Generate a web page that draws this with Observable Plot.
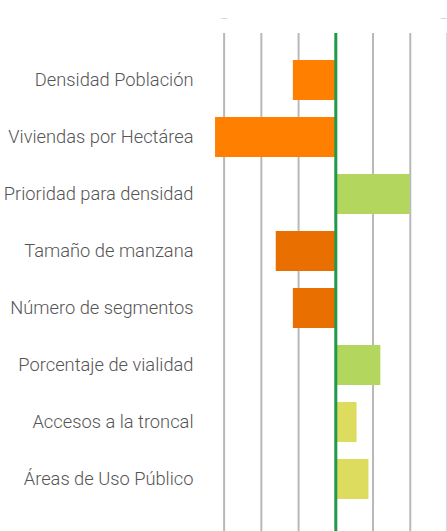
<!DOCTYPE html>
<html>
<head>
<meta charset="utf-8">
<script src="https://cdn.jsdelivr.net/npm/d3@7"></script>
<script src="https://cdn.jsdelivr.net/npm/@observablehq/plot@0.6"></script>
<style>
  html, body { margin: 0; padding: 0; background: #fff; }
  #chart svg { display: block; }
</style>
</head>
<body>
<div id="chart"></div>
<script>
const categories = [
  "Densidad Población",
  "Viviendas por Hectárea",
  "Prioridad para densidad",
  "Tamaño de manzana",
  "Número de segmentos",
  "Porcentaje de vialidad",
  "Accesos a la troncal",
  "Áreas de Uso Público"
];
const values = [-1.14, -3.23, 2.0, -1.6, -1.14, 1.21, 0.57, 0.89];
const barColors = ["#FF7F00", "#FF7F00", "#B3D65E", "#E86F00", "#E86F00", "#B3D65E", "#DEDC5F", "#DEDC5F"];
const gridTicks = [-3, -2, -1, 1, 2, 3];
const topTickValues = [-3, 3];
const topTickLabels = ["–", "–"];

const data = categories.map((c, i) => ({category: c, value: values[i], color: barColors[i]}));
const topTicks = topTickValues.map((v, i) => ({v, label: topTickLabels[i]}));

const chart = Plot.plot({
  width: 447,
  height: 531,
  marginLeft: 205,
  marginRight: 0,
  marginTop: 51,
  marginBottom: 23,
  style: {fontFamily: "Roboto, sans-serif", background: "#fff"},
  x: {domain: [-3.5, 3], axis: null},
  y: {domain: categories, paddingInner: 0.3, paddingOuter: 0.15, label: null},
  marks: [
    Plot.ruleX(gridTicks, {stroke: "#b8b8b8", strokeWidth: 2, insetTop: -18, insetBottom: -23}),
    Plot.barX(data, {x: "value", y: "category", fill: "color"}),
    Plot.ruleX([0], {stroke: "#1E9A48", strokeWidth: 3, insetTop: -18, insetBottom: -23}),
    Plot.text(topTicks.slice(0, 1), {x: "v", text: "label", frameAnchor: "top", dy: -37, fill: "#d8d8d8", fontSize: 12}),
    Plot.text(topTicks.slice(1), {x: "v", text: "label", frameAnchor: "top", dy: -37, textAnchor: "end", fill: "#d8d8d8", fontSize: 12}),
    Plot.axisY({tickSize: 0, tickPadding: 12, fontSize: 18.3, fontWeight: 300, fill: "#555", label: null})
  ]
});
document.getElementById("chart").appendChild(chart);
</script>
</body>
</html>
